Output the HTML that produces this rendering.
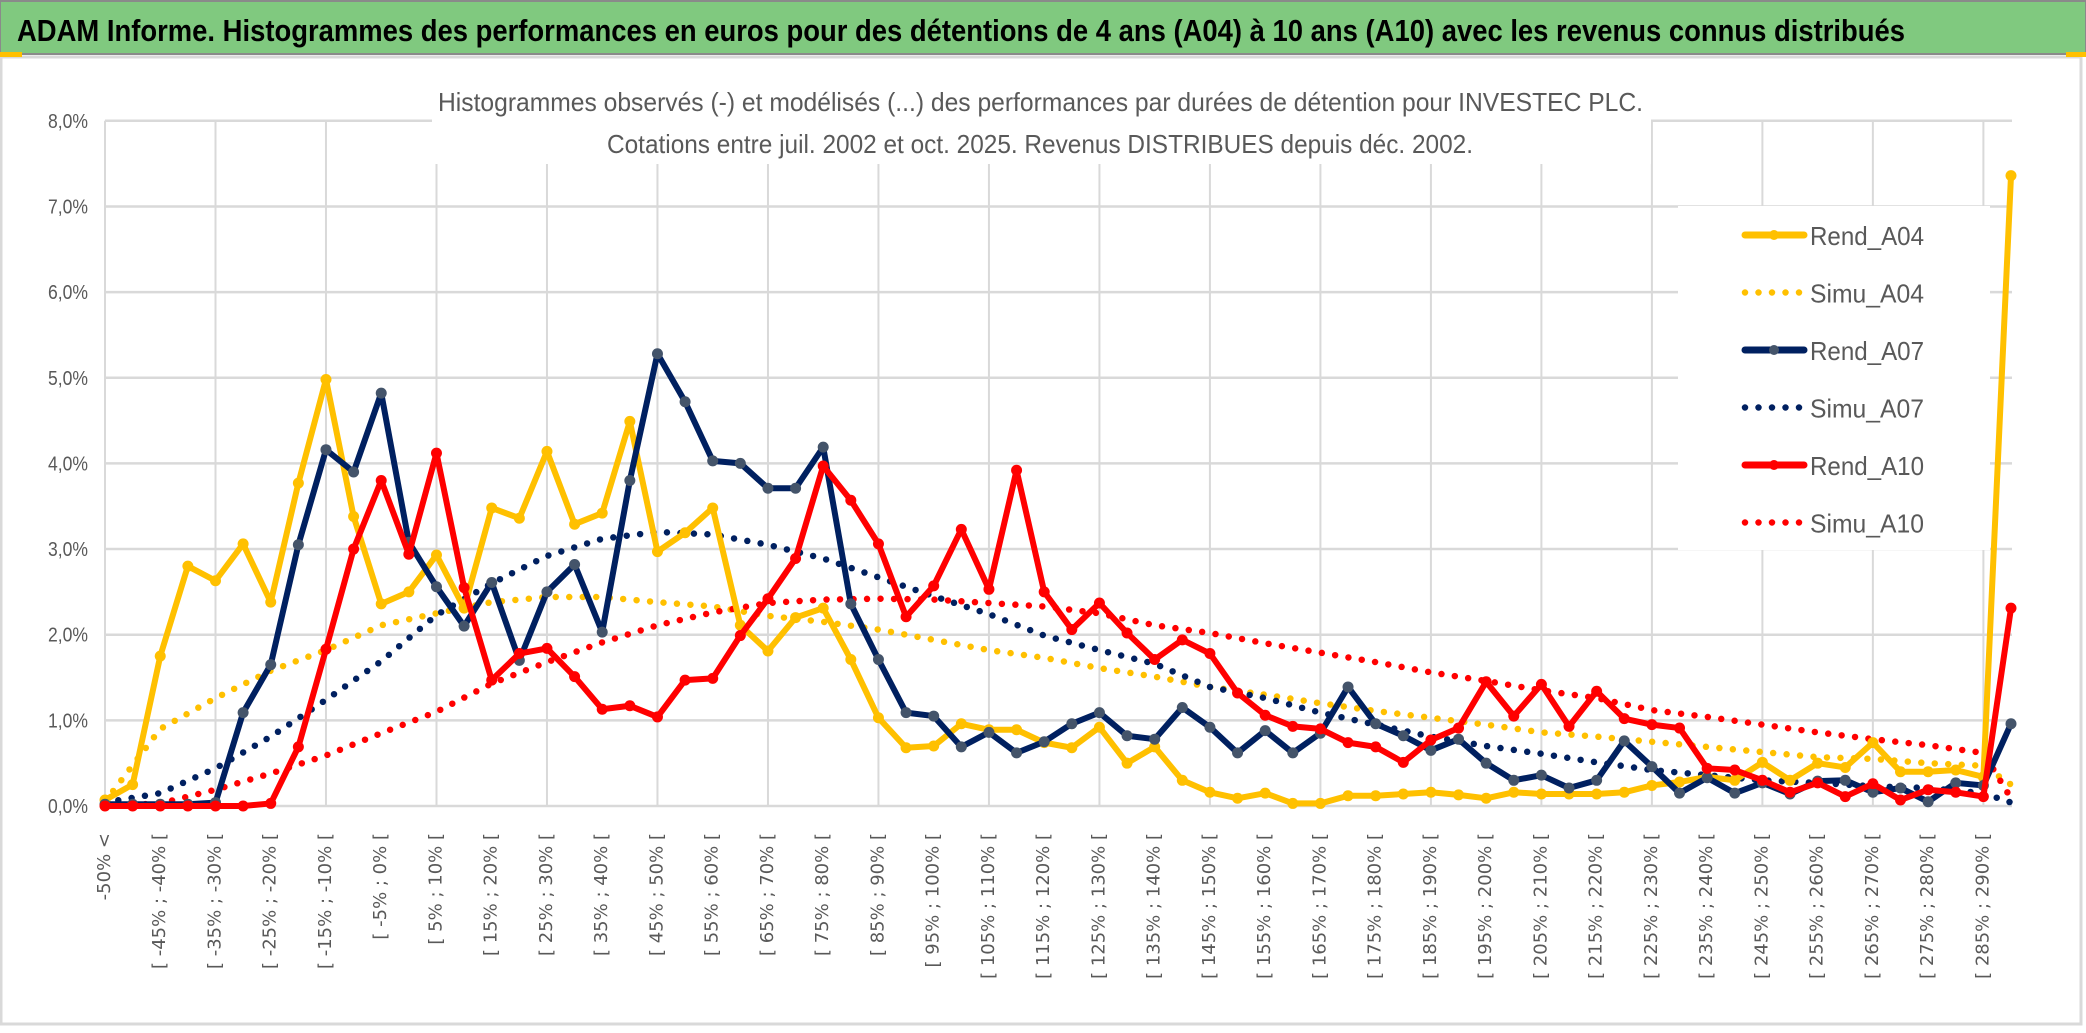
<!DOCTYPE html>
<html><head><meta charset="utf-8">
<style>
html,body{margin:0;padding:0;background:#fff;}
svg{display:block;}
</style></head>
<body>
<svg id="chart" width="2086" height="1033" viewBox="0 0 2086 1033" xmlns="http://www.w3.org/2000/svg">
  <rect x="0" y="0" width="2086" height="1033" fill="#fff"/>
  <rect x="0" y="1" width="2086" height="53" fill="#80c97f" stroke="#8a8a8a" stroke-width="2"/>
  <text x="17" y="41" textLength="1888" lengthAdjust="spacingAndGlyphs" font-family="Liberation Sans, sans-serif" font-weight="bold" font-size="31" fill="#000">ADAM Informe. Histogrammes des performances en euros pour des détentions de 4 ans (A04) à 10 ans (A10) avec les revenus connus distribués</text>
  <rect x="1" y="57" width="2080" height="967" fill="#fff" stroke="#d9d9d9" stroke-width="3"/>
  <rect x="0" y="52" width="22" height="5" fill="#ffc000"/>
  <rect x="2066" y="52" width="20" height="5" fill="#ffc000"/>
  <g id="grid"></g>
  <rect x="432" y="80" width="1219" height="84" fill="#fff"/>
  <text x="438" y="111" textLength="1205" lengthAdjust="spacingAndGlyphs" font-family="Liberation Sans, sans-serif" font-size="26" fill="#595959">Histogrammes observés (-) et modélisés (...) des performances par durées de détention pour INVESTEC PLC.</text>
  <text x="607" y="153" textLength="866" lengthAdjust="spacingAndGlyphs" font-family="Liberation Sans, sans-serif" font-size="26" fill="#595959">Cotations entre juil. 2002 et oct. 2025. Revenus DISTRIBUES depuis déc. 2002.</text>
  <g id="yaxis"></g>
  <g id="xaxis"></g>
  <rect x="1678" y="206" width="312" height="344" fill="#fff"/>
  <g id="legend"></g>
  <g id="series"></g>
</svg>
<script>
const categories = (function(){const c=["-50% <"];for(let k=1;k<70;k++){const a=-55+5*k;c.push("[ "+a+"% ; "+(a+5)+"% [");}return c;})();
const yTicks = [0,1,2,3,4,5,6,7,8];
const yTickLabels = ["0,0%","1,0%","2,0%","3,0%","4,0%","5,0%","6,0%","7,0%","8,0%"];
const rendA04 = [0.07,0.25,1.75,2.80,2.63,3.06,2.38,3.77,4.98,3.38,2.36,2.50,2.93,2.31,3.48,3.36,4.14,3.29,3.42,4.49,2.97,3.19,3.48,2.11,1.81,2.20,2.31,1.71,1.03,0.68,0.70,0.96,0.89,0.89,0.74,0.68,0.92,0.50,0.69,0.30,0.16,0.09,0.15,0.03,0.03,0.12,0.12,0.14,0.16,0.13,0.09,0.16,0.14,0.14,0.14,0.16,0.24,0.28,0.34,0.30,0.51,0.30,0.50,0.45,0.74,0.40,0.40,0.42,0.34,7.36];
const rendA07 = [0.02,0.02,0.02,0.02,0.04,1.09,1.65,3.05,4.16,3.90,4.82,3.08,2.56,2.10,2.61,1.70,2.50,2.82,2.03,3.80,5.28,4.72,4.03,4.00,3.71,3.71,4.19,2.36,1.71,1.09,1.05,0.69,0.86,0.62,0.75,0.96,1.09,0.82,0.78,1.15,0.92,0.62,0.88,0.62,0.85,1.39,0.96,0.82,0.65,0.78,0.50,0.30,0.36,0.21,0.30,0.76,0.46,0.15,0.33,0.15,0.27,0.14,0.29,0.30,0.16,0.21,0.05,0.27,0.24,0.96];
const rendA10 = [0.0,0.0,0.0,0.0,0.0,0.0,0.03,0.69,1.83,3.00,3.80,2.94,4.12,2.55,1.47,1.78,1.84,1.51,1.13,1.17,1.04,1.47,1.49,1.99,2.42,2.89,3.97,3.57,3.06,2.21,2.57,3.23,2.53,3.92,2.50,2.06,2.37,2.02,1.71,1.94,1.78,1.32,1.06,0.93,0.90,0.74,0.69,0.51,0.77,0.91,1.45,1.05,1.42,0.93,1.34,1.02,0.95,0.91,0.44,0.42,0.30,0.16,0.27,0.11,0.26,0.07,0.19,0.16,0.11,2.31];
const simuIdx = [0,2,4,6,8,10,12,14,16,18,20,22,24,26,28,30,32,34,36,38,40,42,44,46,48,50,52,54,56,58,60,62,64,66,68,69];
const simuA04 = [0.05,0.90,1.26,1.58,1.82,2.11,2.25,2.38,2.44,2.44,2.38,2.33,2.22,2.15,2.06,1.94,1.82,1.73,1.61,1.51,1.39,1.30,1.20,1.11,1.03,0.95,0.86,0.81,0.75,0.69,0.63,0.57,0.55,0.50,0.47,0.25];
const simuA07 = [0.04,0.15,0.44,0.81,1.24,1.69,2.23,2.60,2.92,3.12,3.20,3.17,3.05,2.89,2.67,2.45,2.24,1.99,1.82,1.66,1.39,1.26,1.09,0.95,0.81,0.70,0.61,0.51,0.42,0.36,0.30,0.27,0.23,0.21,0.15,0.04];
const simuA10 = [0.0,0.03,0.19,0.38,0.59,0.85,1.10,1.43,1.68,1.91,2.11,2.26,2.37,2.41,2.42,2.41,2.37,2.33,2.25,2.11,2.02,1.90,1.79,1.68,1.56,1.46,1.35,1.26,1.12,1.04,0.95,0.86,0.78,0.71,0.62,0.09];
const legendLabels = ["Rend_A04","Simu_A04","Rend_A07","Simu_A07","Rend_A10","Simu_A10"];

const NS="http://www.w3.org/2000/svg";
const X0=105, XSTEP=(2011-105)/69, Y0=806, YSTEP=85.65;
function xs(i){return X0+i*XSTEP;}
function ys(v){return Y0-v*YSTEP;}
function mk(tag,attrs,parent){const e=document.createElementNS(NS,tag);for(const k in attrs)e.setAttribute(k,attrs[k]);parent.appendChild(e);return e;}

const grid=document.getElementById('grid');
yTicks.forEach((t,i)=>{
  const l=mk('line',{x1:X0,x2:xs(69)+1,y1:ys(t),y2:ys(t),stroke:'#d9d9d9','stroke-width':2.5},grid);
  
  
});
for(let i=0;i<70;i+=4){
  const l=mk('line',{x1:xs(i),x2:xs(i),y1:ys(8),y2:Y0,stroke:'#d9d9d9','stroke-width':2},grid);
  
  
}
const yaxis=document.getElementById('yaxis');
yTicks.forEach((t,i)=>{
  const tx=mk('text',{x:88,y:ys(t)+7,'text-anchor':'end','font-family':'Liberation Sans, sans-serif','font-size':20,fill:'#595959',textLength:40,lengthAdjust:'spacingAndGlyphs'},yaxis);
  tx.textContent=yTickLabels[i];
  
  
});
const xaxis=document.getElementById('xaxis');
categories.forEach((c,i)=>{
  if(i%2!==0)return;
  const x=xs(i), y=833;
  const tx=mk('text',{x:x,y:y,transform:'rotate(-90 '+x+' '+y+')','text-anchor':'end','dominant-baseline':'middle','font-family':'DejaVu Sans, sans-serif','font-size':18,fill:'#595959'},xaxis);
  tx.textContent=c;
  
  
});

const series=document.getElementById('series');
function drawSimu(vals,color,name){
  const pts=vals.map((v,k)=>xs(simuIdx[k])+','+ys(v)).join(' ');
  const p=mk('polyline',{points:pts,fill:'none',stroke:color,'stroke-width':6.5,'stroke-linecap':'round','stroke-dasharray':'0 13.5'},series);
  
  
}
function drawRend(vals,color,mcolor,name){
  const g=mk('g',{},series);
  
  
  mk('polyline',{points:vals.map((v,i)=>xs(i)+','+ys(v)).join(' '),fill:'none',stroke:color,'stroke-width':6,'stroke-linejoin':'round'},g);
  vals.forEach((v,i)=>{
    const c=mk('circle',{cx:xs(i),cy:ys(v),r:5.5,fill:mcolor},g);
    
    
  });
}
drawSimu(simuA04,'#ffc000','simu-a04-line');
drawSimu(simuA07,'#002060','simu-a07-line');
drawSimu(simuA10,'#ff0000','simu-a10-line');
drawRend(rendA04,'#ffc000','#ffc000','rend-a04-line');
drawRend(rendA07,'#002060','#44546a','rend-a07-line');
drawRend(rendA10,'#ff0000','#ff0000','rend-a10-line');

const legend=document.getElementById('legend');
const legColors=['#ffc000','#ffc000','#002060','#002060','#ff0000','#ff0000'];
const legMarker=['#ffc000',null,'#44546a',null,'#ff0000',null];
legendLabels.forEach((lab,i)=>{
  const cy=235+i*57.5;
  const g=mk('g',{},legend);
  
  
  if(legMarker[i]){
    mk('line',{x1:1745,x2:1804,y1:cy,y2:cy,stroke:legColors[i],'stroke-width':7,'stroke-linecap':'round'},g);
    mk('circle',{cx:1774,cy:cy,r:5,fill:legMarker[i]},g);
  } else {
    mk('line',{x1:1745,x2:1800,y1:cy,y2:cy,stroke:legColors[i],'stroke-width':6.5,'stroke-linecap':'round','stroke-dasharray':'0 13.5'},g);
  }
  const t=mk('text',{x:1810,y:cy+10,'font-family':'Liberation Sans, sans-serif','font-size':26,fill:'#595959',textLength:114,lengthAdjust:'spacingAndGlyphs'},g);
  t.textContent=lab;
});
</script>
</body></html>
